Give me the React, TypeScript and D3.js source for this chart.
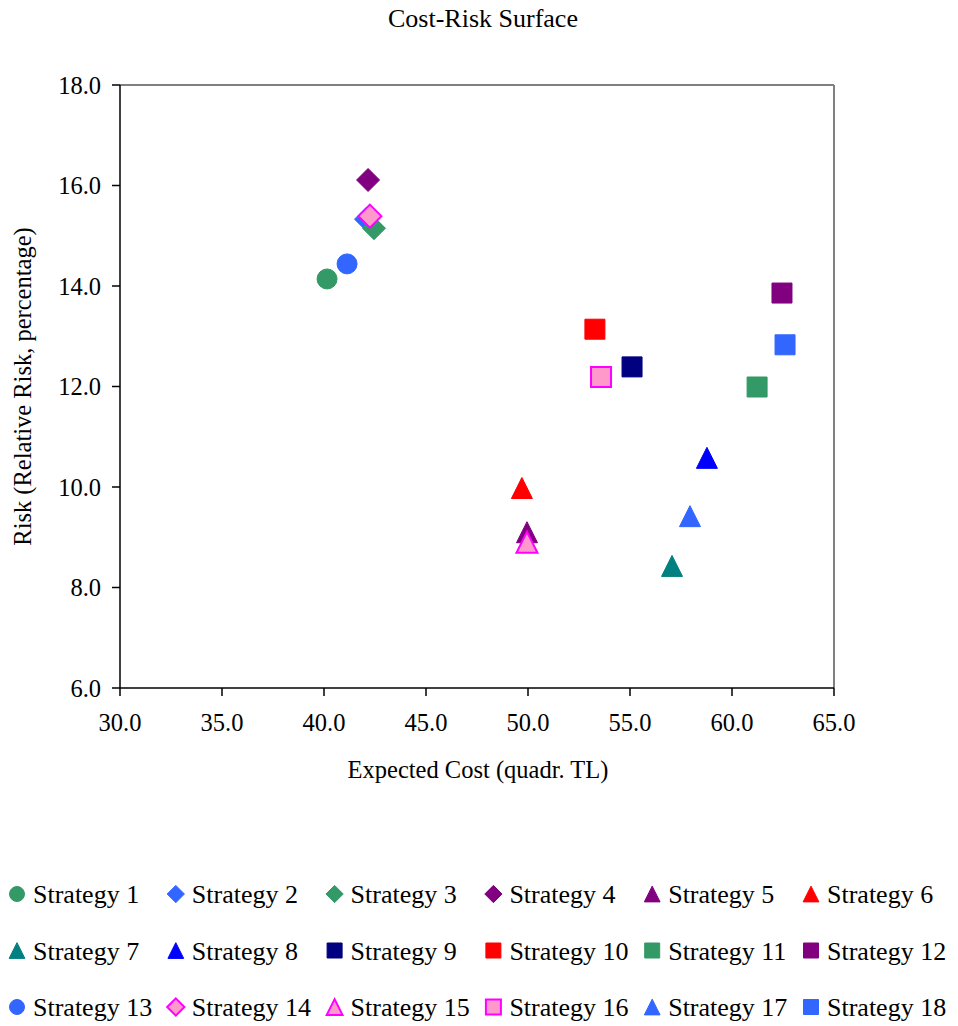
import React from "react";
import * as d3 from "d3";

const strategies = [
  "Strategy 1", "Strategy 2", "Strategy 3", "Strategy 4", "Strategy 5", "Strategy 6",
  "Strategy 7", "Strategy 8", "Strategy 9", "Strategy 10", "Strategy 11", "Strategy 12",
  "Strategy 13", "Strategy 14", "Strategy 15", "Strategy 16", "Strategy 17", "Strategy 18",
];
const expectedCost = [40.15, 42.06, 42.45, 42.16, 49.95, 49.7, 57.06, 58.77, 55.1, 53.28, 61.23, 62.45, 41.13, 42.25, 49.95, 53.58, 57.94, 62.6];
const risk = [14.14, 15.33, 15.15, 16.11, 9.1, 9.98, 8.43, 10.58, 12.39, 13.14, 11.99, 13.86, 14.44, 15.39, 8.9, 12.19, 9.42, 12.83];
const shapes = [
  "circle", "diamond", "diamond", "diamond", "triangle", "triangle",
  "triangle", "triangle", "square", "square", "square", "square",
  "circle", "diamond", "triangle", "square", "triangle", "square",
];
const fills = [
  "#339966", "#3366FF", "#339966", "#800080", "#800080", "#FF0000",
  "#008080", "#0000FF", "#000080", "#FF0000", "#339966", "#800080",
  "#3366FF", "#FF99CC", "#FF99CC", "#FF99CC", "#3366FF", "#3366FF",
];
const strokes = [
  "#339966", "#3366FF", "#339966", "#800080", "#800080", "#FF0000",
  "#008080", "#0000FF", "#000080", "#FF0000", "#339966", "#800080",
  "#3366FF", "#FF00FF", "#FF00FF", "#FF00FF", "#3366FF", "#3366FF",
];
const xTicks = [30, 35, 40, 45, 50, 55, 60, 65];
const yTicks = [6, 8, 10, 12, 14, 16, 18];

const W = 958;
const H = 1026;
const margin = { left: 120, top: 85, right: 124, bottom: 338 };
const FONT = "'Liberation Serif', 'Times New Roman', serif";

function markerPath(shape: string, s: number) {
  const h = s / 2;
  if (shape === "circle") return d3.symbol(d3.symbolCircle, Math.PI * h * h)() as string;
  if (shape === "square") return `M${-h},${-h}H${h}V${h}H${-h}Z`;
  if (shape === "diamond") {
    const r = h * 1.15;
    return `M0,${-r}L${r},0L0,${r}L${-r},0Z`;
  }
  // triangle centred in its box
  return `M0,${-h * 1.05}L${h * 1.05},${h * 1.05}L${-h * 1.05},${h * 1.05}Z`;
}

export default function App() {
  const innerW = W - margin.left - margin.right;
  const innerH = H - margin.top - margin.bottom;
  const x = d3.scaleLinear().domain([30, 65]).range([margin.left, margin.left + innerW]);
  const y = d3.scaleLinear().domain([6, 18]).range([margin.top + innerH, margin.top]);
  const legendX = d3.scaleLinear().domain([0, 5]).range([17, 811]);
  const legendY = d3.scaleLinear().domain([0, 2]).range([894, 1007]);

  return (
    <svg width={W} height={H} style={{ position: "absolute", left: 0, top: 0, background: "#fff" }} fontFamily={FONT}>
      <text x={483} y={27} textAnchor="middle" fontSize={26}>Cost-Risk Surface</text>

      {/* plot frame */}
      <line x1={x(30)} x2={x(65)} y1={y(18)} y2={y(18)} stroke="#808080" strokeWidth={2} />
      <line x1={x(65)} x2={x(65)} y1={y(18)} y2={y(6)} stroke="#808080" strokeWidth={2} />
      <line x1={x(30)} x2={x(30)} y1={y(18)} y2={y(6)} stroke="#000" strokeWidth={1.5} />
      <line x1={x(30)} x2={x(65)} y1={y(6)} y2={y(6)} stroke="#000" strokeWidth={1.5} />

      {yTicks.map(t => (
        <g key={"y" + t}>
          <line x1={x(30) - 8} x2={x(30)} y1={y(t)} y2={y(t)} stroke="#000" strokeWidth={1.5} />
          <text x={x(30) - 19} y={y(t)} dy="0.35em" textAnchor="end" fontSize={24.5}>{t.toFixed(1)}</text>
        </g>
      ))}
      {xTicks.map(t => (
        <g key={"x" + t}>
          <line x1={x(t)} x2={x(t)} y1={y(6)} y2={y(6) + 8} stroke="#000" strokeWidth={1.5} />
          <text x={x(t)} y={731} textAnchor="middle" fontSize={24.5}>{t.toFixed(1)}</text>
        </g>
      ))}

      <text x={478} y={778} textAnchor="middle" fontSize={24.5}>Expected Cost (quadr. TL)</text>
      <text transform={`translate(31,${(y(6) + y(18)) / 2}) rotate(-90)`} textAnchor="middle" fontSize={24.5}>
        Risk (Relative Risk, percentage)
      </text>

      {strategies.map((s, i) => (
        <path
          key={s}
          d={markerPath(shapes[i], 20)}
          transform={`translate(${x(expectedCost[i])},${y(risk[i])})`}
          fill={fills[i]}
          stroke={strokes[i]}
          strokeWidth={fills[i] === strokes[i] ? 1 : 2}
        />
      ))}

      {strategies.map((s, i) => {
        const cx = legendX(i % 6);
        const cy = legendY(Math.floor(i / 6));
        return (
          <g key={"leg" + s}>
            <path
              d={markerPath(shapes[i], 15)}
              transform={`translate(${cx},${cy})`}
              fill={fills[i]}
              stroke={strokes[i]}
              strokeWidth={fills[i] === strokes[i] ? 1 : 2}
            />
            <text x={cx + 16} y={cy} dy="0.35em" fontSize={26}>{s}</text>
          </g>
        );
      })}
    </svg>
  );
}
